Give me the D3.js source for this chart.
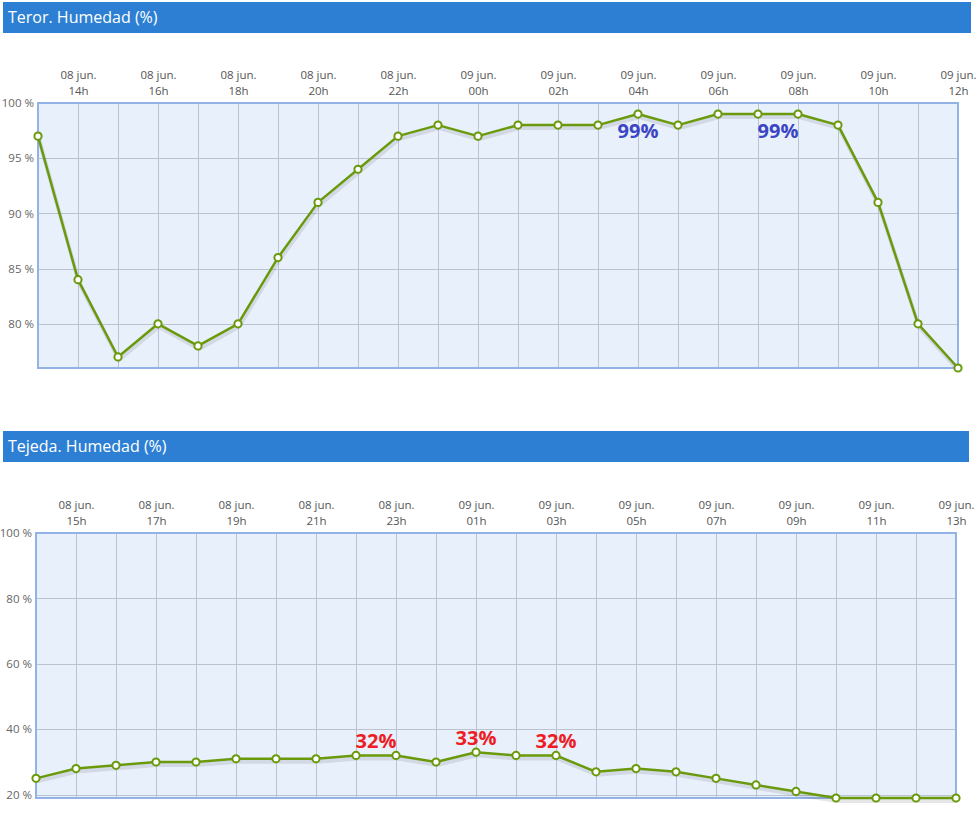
<!DOCTYPE html>
<html><head><meta charset="utf-8">
<script src="https://cdn.jsdelivr.net/npm/d3@7"></script>
<style>
body{margin:0;background:#fff;}
svg{display:block;}
</style></head>
<body>
<svg id="chart" width="977" height="820"></svg>
<script>
// ---- data ----
const teror_times = ["2023-06-08T13:00","2023-06-08T14:00","2023-06-08T15:00","2023-06-08T16:00","2023-06-08T17:00","2023-06-08T18:00","2023-06-08T19:00","2023-06-08T20:00","2023-06-08T21:00","2023-06-08T22:00","2023-06-08T23:00","2023-06-09T00:00","2023-06-09T01:00","2023-06-09T02:00","2023-06-09T03:00","2023-06-09T04:00","2023-06-09T05:00","2023-06-09T06:00","2023-06-09T07:00","2023-06-09T08:00","2023-06-09T09:00","2023-06-09T10:00","2023-06-09T11:00","2023-06-09T12:00"];
const teror_values = [97,84,77,80,78,80,86,91,94,97,98,97,98,98,98,99,98,99,99,99,98,91,80,76];
const teror_xticks = ["2023-06-08T14:00","2023-06-08T16:00","2023-06-08T18:00","2023-06-08T20:00","2023-06-08T22:00","2023-06-09T00:00","2023-06-09T02:00","2023-06-09T04:00","2023-06-09T06:00","2023-06-09T08:00","2023-06-09T10:00","2023-06-09T12:00"];
const teror_yticks = [80,85,90,95,100];
const teror_notes = [{t:"2023-06-09T04:00",v:99,label:"99%"},{t:"2023-06-09T07:30",v:99,label:"99%"}];

const tejeda_times = ["2023-06-08T14:00","2023-06-08T15:00","2023-06-08T16:00","2023-06-08T17:00","2023-06-08T18:00","2023-06-08T19:00","2023-06-08T20:00","2023-06-08T21:00","2023-06-08T22:00","2023-06-08T23:00","2023-06-09T00:00","2023-06-09T01:00","2023-06-09T02:00","2023-06-09T03:00","2023-06-09T04:00","2023-06-09T05:00","2023-06-09T06:00","2023-06-09T07:00","2023-06-09T08:00","2023-06-09T09:00","2023-06-09T10:00","2023-06-09T11:00","2023-06-09T12:00","2023-06-09T13:00"];
const tejeda_values = [25,28,29,30,30,31,31,31,32,32,30,33,32,32,27,28,27,25,23,21,19,19,19,19];
const tejeda_xticks = ["2023-06-08T15:00","2023-06-08T17:00","2023-06-08T19:00","2023-06-08T21:00","2023-06-08T23:00","2023-06-09T01:00","2023-06-09T03:00","2023-06-09T05:00","2023-06-09T07:00","2023-06-09T09:00","2023-06-09T11:00","2023-06-09T13:00"];
const tejeda_yticks = [20,40,60,80,100];
const tejeda_notes = [{t:"2023-06-08T22:30",v:32,label:"32%"},{t:"2023-06-09T01:00",v:33,label:"33%"},{t:"2023-06-09T03:00",v:32,label:"32%"}];

const parse = d3.timeParse("%Y-%m-%dT%H:%M");
const monthsEs = ["ene.","feb.","mar.","abr.","may.","jun.","jul.","ago.","sep.","oct.","nov.","dic."];
const svg = d3.select("#chart");
const font = "'Open Sans', 'DejaVu Sans', sans-serif";

function drawChart(cfg){
  const g = svg.append("g");
  // header
  g.append("rect").attr("x",cfg.hx0).attr("y",cfg.hy).attr("width",cfg.hx1-cfg.hx0).attr("height",31).attr("fill","#2d7fd3");
  g.append("text").attr("x",cfg.hx0+5).attr("y",cfg.hy+21).attr("fill","#fff")
    .style("font-family",font).style("font-size","16px").text(cfg.title);

  const times = cfg.times.map(parse);
  const x = d3.scaleTime().domain(d3.extent(times)).range([cfg.x0,cfg.x1]);
  const y = d3.scaleLinear().domain(cfg.ydomain).range([cfg.y1,cfg.y0]);

  // plot bg
  g.append("rect").attr("x",cfg.x0).attr("y",cfg.y0).attr("width",cfg.x1-cfg.x0).attr("height",cfg.y1-cfg.y0).attr("fill","#e8f0fb");

  // vertical grid (hourly)
  g.append("g").selectAll("line").data(times).join("line")
    .attr("x1",d=>x(d)).attr("x2",d=>x(d)).attr("y1",cfg.y0).attr("y2",cfg.y1)
    .attr("stroke","#bcc3d0").attr("stroke-width",1).attr("shape-rendering","crispEdges");
  // horizontal grid
  g.append("g").selectAll("line").data(cfg.yticks).join("line")
    .attr("x1",cfg.x0).attr("x2",cfg.x1).attr("y1",d=>Math.round(y(d))+0.5).attr("y2",d=>Math.round(y(d))+0.5)
    .attr("stroke","#bcc3d0").attr("stroke-width",1);

  // border
  g.append("rect").attr("x",cfg.x0).attr("y",cfg.y0).attr("width",cfg.x1-cfg.x0).attr("height",cfg.y1-cfg.y0)
    .attr("fill","none").attr("stroke","#93b3e6").attr("stroke-width",2);

  // y axis labels
  const ya = d3.axisLeft(y).tickValues(cfg.yticks).tickSize(0).tickPadding(cfg.ypad).tickFormat(d=>d+" %");
  const yg = g.append("g").attr("transform",`translate(${cfg.x0-1},0)`).call(ya);
  yg.select(".domain").remove();
  yg.selectAll("text").attr("fill","#666").style("font-family",font).style("font-size","11.5px");

  // x axis labels
  const xt = cfg.xticks.map(parse);
  const xa = d3.axisTop(x).tickValues(xt).tickSize(0).tickFormat("");
  const xg = g.append("g").attr("transform",`translate(0,${cfg.y0})`).call(xa);
  xg.select(".domain").remove();
  xg.selectAll(".tick").each(function(d){
    const t = d3.select(this).append("text").attr("fill","#555").attr("text-anchor","middle")
      .style("font-family",font).style("font-size","11.5px");
    t.append("tspan").attr("x",0).attr("y",-24).text(d3.timeFormat("%d")(d)+" "+monthsEs[d.getMonth()]);
    t.append("tspan").attr("x",0).attr("y",-8).text(d3.timeFormat("%H")(d)+"h");
  });

  const data = times.map((t,i)=>({t, v:cfg.values[i]}));
  const line = d3.line().x(d=>x(d.t)).y(d=>y(d.v));
  // shadow
  g.append("path").datum(data).attr("d",line).attr("fill","none")
    .attr("stroke","rgba(60,60,80,0.13)").attr("stroke-width",4).attr("transform","translate(1,3)");
  g.append("path").datum(data).attr("d",line).attr("fill","none")
    .attr("stroke","#6a9a0c").attr("stroke-width",2.5).attr("stroke-linejoin","round");
  g.append("g").selectAll("circle").data(data).join("circle")
    .attr("cx",d=>x(d.t)).attr("cy",d=>y(d.v)).attr("r",3.6)
    .attr("fill","#fff").attr("stroke","#6a9a0c").attr("stroke-width",2);

  // annotations
  g.append("g").selectAll("text").data(cfg.notes).join("text")
    .attr("x",d=>x(parse(d.t))).attr("y",d=>y(d.v)+cfg.noteDy)
    .attr("text-anchor","middle").attr("fill",cfg.noteColor)
    .style("font-family",font).style("font-size","20px").style("font-weight","bold")
    .text(d=>d.label);
}

drawChart({title:"Teror. Humedad (%)", hx0:3, hx1:971, hy:2,
  times:teror_times, values:teror_values, xticks:teror_xticks, yticks:teror_yticks,
  ydomain:[76,100], x0:38, x1:958, y0:103, y1:368, ypad:3,
  notes:teror_notes, noteDy:24, noteColor:"#3b45c4"});

drawChart({title:"Tejeda. Humedad (%)", hx0:3, hx1:969, hy:431,
  times:tejeda_times, values:tejeda_values, xticks:tejeda_xticks, yticks:tejeda_yticks,
  ydomain:[19,100], x0:36, x1:956, y0:533, y1:798, ypad:3,
  notes:tejeda_notes, noteDy:-7, noteColor:"#ee1c25"});
</script>
</body></html>
